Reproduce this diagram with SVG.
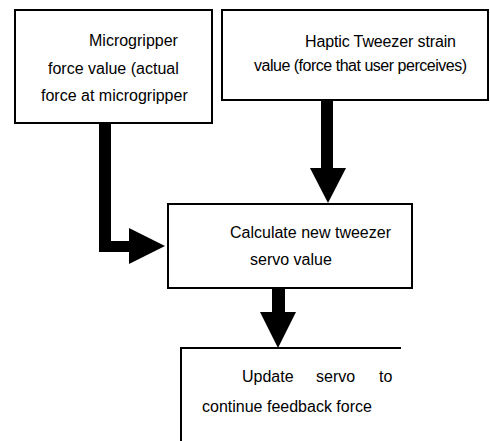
<svg xmlns="http://www.w3.org/2000/svg" width="490" height="441" viewBox="0 0 490 441">
  <style>
    .box { fill: #ffffff; stroke: #000000; stroke-width: 2; }
    .lbl { font-family: "Liberation Sans", Arial, sans-serif; font-size: 16px; fill: #000000; }
    .arrow { fill: #000000; stroke: none; }
  </style>
  <rect width="490" height="441" fill="#ffffff"/>

  <g id="connectors">
    <!-- Microgripper force -> calculate (elbow) -->
    <rect class="arrow" x="99" y="123" width="12" height="129"/>
    <rect class="arrow" x="99" y="241" width="32" height="11"/>
    <polygon class="arrow" points="129,228 165,246 129,264"/>
    <!-- Haptic strain -> calculate -->
    <rect class="arrow" x="321" y="100" width="12" height="70"/>
    <polygon class="arrow" points="310,168 346,168 328,203"/>
    <!-- calculate -> update servo -->
    <rect class="arrow" x="272" y="288" width="13" height="26"/>
    <polygon class="arrow" points="260,312 296,312 278,348"/>
  </g>

  <g id="node-microgripper">
    <rect class="box" x="15" y="10" width="197" height="113"/>
    <text class="lbl" x="89" y="46">Microgripper</text>
    <text class="lbl" x="48" y="74">force value (actual</text>
    <text class="lbl" x="41" y="101">force at microgripper</text>
  </g>

  <g id="node-haptic">
    <rect class="box" x="222" y="10" width="266" height="90"/>
    <text class="lbl" x="305" y="47" textLength="151">Haptic Tweezer strain</text>
    <text class="lbl" x="254" y="71" textLength="213">value (force that user perceives)</text>
  </g>

  <g id="node-calculate">
    <rect class="box" x="168" y="204" width="244" height="84"/>
    <text class="lbl" x="230" y="238">Calculate new tweezer</text>
    <text class="lbl" x="250" y="265">servo value</text>
  </g>

  <g id="node-update">
    <path d="M181,442 V348 H401" fill="none" stroke="#000000" stroke-width="2"/>
    <text class="lbl" x="242" y="382">Update</text>
    <text class="lbl" x="316" y="382">servo</text>
    <text class="lbl" x="379" y="382">to</text>
    <text class="lbl" x="202" y="412">continue feedback force</text>
  </g>
</svg>
